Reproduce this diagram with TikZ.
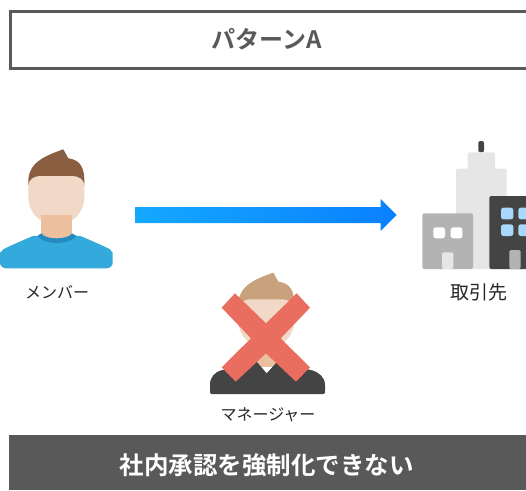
\documentclass[tikz,border=0pt]{standalone}
\usepackage{fontspec}
\usepackage{xcolor}
\setmainfont{Noto Sans CJK JP}[BoldFont={Noto Sans CJK JP Bold}]
\usetikzlibrary{positioning}
\definecolor{bandgrey}{HTML}{595959}
\definecolor{crossred}{HTML}{E96E60}
\definecolor{towergrey}{HTML}{E6E6E6}
\definecolor{blockgrey}{HTML}{B3B3B3}
\definecolor{blockdark}{HTML}{444444}
\definecolor{paneblue}{HTML}{A9D8FB}
\definecolor{skinlight}{HTML}{F2D8C6}
\definecolor{skindark}{HTML}{ECC09E}
\definecolor{hairdark}{HTML}{8A5F41}
\definecolor{hairlight}{HTML}{C8A27C}
\definecolor{shirtblue}{HTML}{34AADC}
\definecolor{collarblue}{HTML}{268ABE}
\definecolor{arrowlight}{HTML}{14A8FF}
\definecolor{arrowdeep}{HTML}{0A80FF}

% #1: hair colour
\newcommand\drawhead[1]{
  \fill[#1] (85,165) .. controls (82,110) and (110,85) .. (190,58) -- (205,85)
    .. controls (240,90) and (255,110) .. (253,165) -- cycle;
  \fill[skinlight] (85,170) .. controls (85,148) and (100,138) .. (125,138) -- (213,138)
    .. controls (238,138) and (253,148) .. (253,170) -- (253,200)
    .. controls (253,250) and (215,285) .. (169,285)
    .. controls (123,285) and (85,250) .. (85,200) -- cycle;
}

\begin{document}
\begin{tikzpicture}[
  x=1pt, y=-1pt,
  bigtext/.style={font=\fontsize{24.5pt}{28pt}\selectfont\bfseries, inner sep=0pt},
  smalltext/.style={font=\fontsize{16pt}{19pt}\selectfont, text=black!85, inner sep=0pt},
  zoomed/.style={x=.33333pt, y=-.33333pt, shift={(#1)}},
  win/.style={rounded corners=2.5pt},
]
\useasboundingbox (0,0) rectangle (526,490);
\clip (0,0) rectangle (526,490);

% title and bottom band
\draw[bandgrey, line width=3pt] (10,11.5) rectangle (532,68.5);
\node[bigtext, text=bandgrey, font=\fontsize{24pt}{28pt}\selectfont\bfseries] (titlelabel) at (266.5,39.5) {パターンA};
\fill[bandgrey] (8.5,434.5) rectangle (532,490);
\node[bigtext, text=white] (resultlabel) at (266.5,465) {社内承認を強制化できない};

% member
\begin{scope}[zoomed={0,390}]
  \drawhead{hairdark}
  \fill[skindark] (124,255) rectangle (216,330);
  \fill[shirtblue, rounded corners=6pt]
    (0,415) -- (0,385) .. controls (0,370) and (10,358) .. (25,350) -- (112,312)
    .. controls (135,335) and (205,335) .. (228,312) -- (315,350)
    .. controls (330,358) and (338,370) .. (338,385) -- (338,415) -- cycle;
  \fill[collarblue] (112,318) -- (124,310)
    .. controls (135,330) and (205,330) .. (216,310) -- (230,318)
    .. controls (205,346) and (135,346) .. (112,318) -- cycle;
\end{scope}
\node[smalltext] (memberlabel) at (57,292) {メンバー};

% manager
\begin{scope}[zoomed={630,760}]
  \drawhead{hairlight}
  \fill[skindark] (124,255) rectangle (216,340);
  \fill[blockdark]
    (5,422) .. controls (0,422) and (0,418) .. (0,412) -- (0,395)
    .. controls (0,370) and (15,358) .. (30,352) -- (140,325)
    -- (170,360) -- (202,325) -- (310,352)
    .. controls (325,358) and (345,370) .. (345,395) -- (345,412)
    .. controls (345,418) and (345,422) .. (340,422) -- cycle;
\end{scope}
\begin{scope}[zoomed={570,780}]
  \fill[crossred] (135,100) -- (228,190) -- (320,100) -- (360,143) -- (272,235) -- (360,322)
    -- (318,365) -- (228,280) -- (137,365) -- (95,322) -- (183,235) -- (95,143) -- cycle;
\end{scope}
\node[smalltext] (managerlabel) at (268,415) {マネージャー};

% partner buildings
\begin{scope}[zoomed={1200,390}]
  \fill[blockdark, rounded corners=2pt] (235,67) rectangle (252,33);
  \fill[towergrey, rounded corners=1.5pt] (203,120) rectangle (285,67);
  \fill[towergrey, rounded corners=1.5pt] (168,417) rectangle (320,116);
  \fill[blockgrey, rounded corners=2pt] (67,417) rectangle (219,250);
  \fill[white, win] (100,325) rectangle (135,292);
  \fill[white, win] (152,325) rectangle (187,292);
  \fill[towergrey, rounded corners=1.5pt] (126,417) rectangle (160,367);
  \fill[blockdark, rounded corners=2pt] (268,417) rectangle (400,198);
  \foreach \wx in {303,355}
    \foreach \wy in {233,283}
      \fill[paneblue, win] (\wx,\wy+35) rectangle (\wx+37,\wy);
  \fill[blockgrey, rounded corners=1.5pt] (328,417) rectangle (362,360);
\end{scope}
\node[smalltext, font=\fontsize{19pt}{22pt}\selectfont] (partnerlabel) at (479,292) {取引先};

% arrow from member towards partner
\coordinate (arrowtail) at (135.7,215);
\coordinate (arrowtip) at (396.7,215);
\path[left color=arrowlight, right color=arrowdeep]
  ([yshift=-8pt]arrowtail) -- ([xshift=-16pt, yshift=-8pt]arrowtip)
  -- ([xshift=-16pt, yshift=-16pt]arrowtip) -- (arrowtip)
  -- ([xshift=-16pt, yshift=16pt]arrowtip) -- ([xshift=-16pt, yshift=8pt]arrowtip)
  -- ([yshift=8pt]arrowtail) -- cycle;
\end{tikzpicture}
\end{document}
